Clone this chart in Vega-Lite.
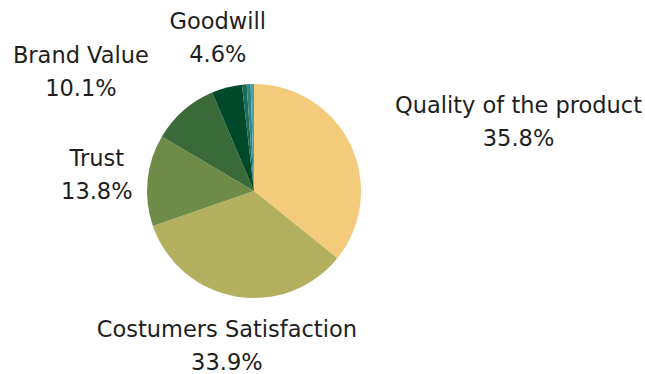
{
  "$schema": "https://vega.github.io/schema/vega-lite/v6.json",
  "autosize": "none",
  "width": 508,
  "height": 366,
  "padding": {"left": 0, "top": 8, "right": 137, "bottom": 0},
  "background": "white",
  "config": {"view": {"stroke": null}, "text": {"font": "DejaVu Sans", "fontSize": 22.5, "lineHeight": 33, "lineBreak": "\n", "color": "#1e1e1e", "align": "center", "baseline": "middle"}},
  "data": {
    "values": [
      {"category": "Quality of the product", "value": 35.8, "idx": 1},
      {"category": "Costumers Satisfaction", "value": 33.9, "idx": 2},
      {"category": "Trust", "value": 13.8, "idx": 3},
      {"category": "Brand Value", "value": 10.1, "idx": 4},
      {"category": "Goodwill", "value": 4.6, "idx": 5},
      {"category": "Other A", "value": 0.7, "idx": 6},
      {"category": "Other B", "value": 0.6, "idx": 7},
      {"category": "Other C", "value": 0.5, "idx": 8}
    ]
  },
  "transform": [
    {"stack": "value", "groupby": [], "sort": [{"field": "idx", "order": "ascending"}], "as": ["v0", "v1"]},
    {"calculate": "(datum.v0 + datum.v1) / 2", "as": "mid"},
    {"calculate": "datum.category + '\\n' + format(datum.value, '.1f') + '%'", "as": "label"}
  ],
  "layer": [
    {
      "mark": {"type": "arc", "outerRadius": 107, "stroke": null},
      "encoding": {
        "theta": {"field": "v0", "type": "quantitative", "scale": {"domain": [0, 100]}},
        "theta2": {"field": "v1"},
        "color": {
          "field": "category",
          "type": "nominal",
          "legend": null,
          "scale": {
            "domain": ["Quality of the product", "Costumers Satisfaction", "Trust", "Brand Value", "Goodwill", "Other A", "Other B", "Other C"],
            "range": ["#f3cb7a", "#b2af5e", "#6e8b47", "#3a6a37", "#004a2b", "#1d6a5c", "#2e8682", "#4aa1a9"]
          }
        }
      }
    },
    {
      "transform": [{"filter": "datum.category == 'Quality of the product'"}],
      "mark": {"type": "text", "radius": 158, "dx": 122, "dy": -16.5},
      "encoding": {
        "theta": {"field": "mid", "type": "quantitative", "stack": null},
        "text": {"field": "label"}
      }
    },
    {
      "transform": [{"filter": "datum.category == 'Brand Value'"}],
      "mark": {"type": "text", "radius": 158, "dx": -69, "dy": -16.5},
      "encoding": {
        "theta": {"field": "mid", "type": "quantitative", "stack": null},
        "text": {"field": "label"}
      }
    },
    {
      "transform": [{"filter": "datum.category == 'Goodwill'"}],
      "mark": {"type": "text", "radius": 158, "dx": 4, "dy": -16.5},
      "encoding": {
        "theta": {"field": "mid", "type": "quantitative", "stack": null},
        "text": {"field": "label"}
      }
    },
    {
      "transform": [{"filter": "indexof(['Costumers Satisfaction','Trust'], datum.category) >= 0"}],
      "mark": {"type": "text", "radius": 158, "dy": -16.5},
      "encoding": {
        "theta": {"field": "mid", "type": "quantitative", "stack": null},
        "text": {"field": "label"}
      }
    }
  ]
}
